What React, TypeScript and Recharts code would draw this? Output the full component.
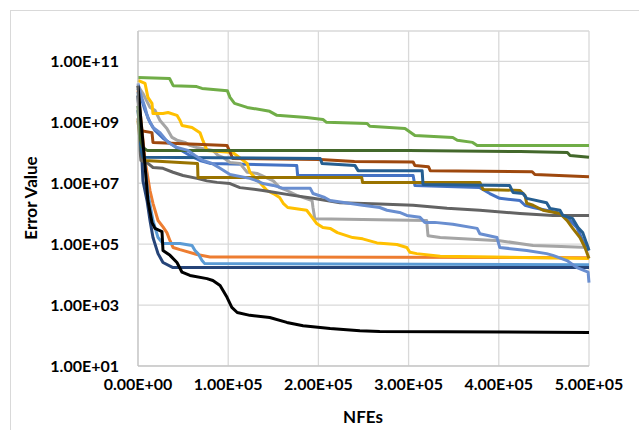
import { LineChart, Line, XAxis, YAxis, CartesianGrid } from 'recharts';

// Convergence runs: [NFEs in thousands, error value]
const greenRun: [number, number][] = [
  [0, 2.95e10], [35, 2.75e10], [39, 1.6e10], [65, 1.5e10], [71, 1.3e10], [99, 1.1e10],
  [102, 6.6e9], [107, 4.2e9], [121, 3.1e9], [146, 2.3e9], [154, 1.7e9], [187, 1.45e9],
  [205, 1.25e9], [209, 1e9], [254, 9.2e8], [257, 7.4e8], [296, 6.3e8], [307, 3.7e8],
  [349, 3.2e8], [354, 2.6e8], [371, 2.2e8], [376, 1.75e8], [500, 1.75e8],
];
const darkGreenRun: [number, number][] = [
  [0, 3.5e9], [2, 3.2e8], [5.5, 1.5e8], [10, 1.2e8], [300, 1.2e8], [424, 1.1e8],
  [476, 1.02e8], [479, 8.2e7], [500, 7.1e7],
];
const brownRun: [number, number][] = [
  [0, 1.35e9], [2, 5.4e8], [15.5, 4.6e8], [16.6, 2.2e8], [98.7, 1.75e8], [105, 6.5e7],
  [202, 6e7], [240, 5.2e7], [305, 5e7], [307, 3.8e7], [322, 3.5e7], [324, 2.6e7],
  [437, 2.4e7], [440, 1.95e7], [500, 1.65e7],
];
const steelBlueRun: [number, number][] = [
  [0, 2.5e9], [3.3, 1.2e8], [5.5, 7.1e7], [202, 6.5e7], [204, 4.5e7], [240.6, 3.8e7],
  [244, 2.6e7], [315, 2.6e7], [316, 9.1e6], [412, 8.5e6], [415.7, 5e6], [426.8, 4.6e6],
  [431, 3.2e6], [453, 2.3e6], [456.7, 1.5e6], [467.8, 1.3e6], [471, 8.8e5], [482, 6.9e5],
  [487.8, 3.5e5], [493, 2.4e5], [495.5, 1.5e5], [499, 7.8e4], [500, 6.2e4],
];
const oliveRun: [number, number][] = [
  [0, 1.15e9], [3.3, 1.2e8], [7.8, 5.6e7], [66, 4.5e7], [66.5, 1.55e7], [248, 1.55e7],
  [249, 1.07e7], [379, 1.07e7], [382.5, 6.3e6], [423.5, 5.8e6], [429, 4e6], [431, 2.2e6],
  [438, 1.9e6], [449, 1.3e6], [467.8, 1.02e6], [475.6, 6e5], [482, 3.3e5], [490, 1.65e5],
  [495.5, 7.8e4], [500, 3.4e4],
];
const blueRun: [number, number][] = [
  [0, 1.3e10], [4.4, 5.2e9], [7.8, 2.5e9], [13.3, 1e9], [18.8, 5.4e8], [27.7, 3e8],
  [41, 1.6e8], [57.6, 8.2e7], [68.7, 5.6e7], [79.8, 4.5e7], [176, 3.8e7], [177, 1.8e7],
  [305, 1.8e7], [307, 8.5e6], [379, 7.2e6], [390, 4.6e6], [401, 3.2e6], [423.5, 2.7e6],
  [429, 1.9e6], [438, 1.6e6], [464.5, 1.1e6], [475.6, 7.6e5], [486.7, 3.5e5], [493, 1.3e5],
  [499, 6.2e4],
];
const paleBlueRun: [number, number][] = [
  [0, 1.9e10], [3.3, 7.6e9], [7.8, 3.1e9], [11, 1.35e9], [16.6, 6.8e8], [24.4, 4.6e8],
  [33.3, 2.2e8], [43.2, 1.5e8], [55.4, 1.2e8], [63.2, 8.2e7], [72, 5.6e7], [82, 4.5e7],
  [91, 3.1e7], [102, 1.95e7], [124, 1.45e7], [132, 1.2e7], [138.6, 9.8e6], [150, 8.5e6],
  [161, 6.8e6], [191, 6.8e6], [194, 4.6e6], [207, 3.4e6], [213, 2.7e6], [249, 1.9e6],
  [268, 1.6e6], [276, 1.3e6], [290, 1.1e6], [298, 8.8e5], [312.6, 7.6e5], [318, 5.2e5],
  [329, 5.2e5], [349, 4.5e5], [376, 3.3e5], [379, 2.2e5], [398, 1.65e5], [401, 7.8e4],
  [431, 6.2e4], [453, 4.9e4], [460, 4.3e4], [475.6, 2.9e4], [486.7, 1.7e4], [499, 1.2e4],
  [500, 5.5e3],
];
const darkGrayRun: [number, number][] = [
  [0, 7.6e9], [2.2, 1.2e8], [3.3, 5.6e7], [11, 4.5e7], [16.6, 3.3e7], [27.7, 3.1e7],
  [38.8, 2.3e7], [49.9, 1.8e7], [65.4, 1.45e7], [76.5, 1.2e7], [87.6, 1.07e7], [102, 9.8e6],
  [113, 7.2e6], [138.6, 5.8e6], [172, 4e6], [194, 3.2e6], [224, 2.3e6], [268, 2.1e6],
  [305, 1.9e6], [342.6, 1.5e6], [379, 1.3e6], [423.5, 1.02e6], [460, 8.8e5], [500, 8.7e5],
];
const grayRun: [number, number][] = [
  [0, 1.6e10], [5.5, 8.9e9], [13.3, 3.1e9], [18.8, 2.5e9], [24.4, 1.15e9], [32, 6.3e8],
  [37.7, 3.2e8], [43.2, 2.6e8], [52.1, 2.2e8], [57.6, 1.75e8], [65.4, 1.5e8], [83, 1.2e8],
  [88.7, 8.2e7], [94.2, 7.1e7], [102, 4.8e7], [113, 4.5e7], [121, 2.3e7], [132, 2.1e7],
  [150, 1.2e7], [157, 7.2e6], [165, 5.8e6], [176, 4e6], [193, 2.7e6], [194, 1.6e6],
  [196, 6.9e5], [320, 6e5], [321.5, 1.9e5], [335, 1.65e5], [401, 1.3e5], [438, 9.1e4],
  [500, 7.8e4],
];
const yellowRun: [number, number][] = [
  [0, 2.4e10], [7.8, 1.9e10], [11, 6.6e9], [15.5, 4.2e9], [16.6, 1.95e9], [27.7, 1.95e9],
  [33.3, 2.1e9], [43.2, 1.7e9], [46.6, 1.15e9], [48.8, 7.9e8], [59.9, 6.8e8], [68.7, 4.6e8],
  [72, 2.5e8], [76.5, 1.2e8], [105, 1.02e8], [121, 4.5e7], [124, 2.3e7], [127.5, 1.8e7],
  [135, 1.07e7], [143, 5.8e6], [150, 4.6e6], [157, 3.4e6], [161, 2.2e6], [166, 1.6e6],
  [187, 1.3e6], [193, 7.6e5], [198, 4.8e5], [205, 3.5e5], [213, 3.3e5], [221, 2.4e5],
  [238, 1.65e5], [249, 1.5e5], [265, 1.1e5], [287, 9.8e4], [298, 7.8e4], [301.5, 5.4e4],
  [309, 4.9e4], [335, 4e4], [500, 3.4e4],
];
const orangeRun: [number, number][] = [
  [0, 1.1e10], [7.8, 5.6e7], [13.3, 5.8e6], [16.6, 2.2e6], [22.2, 6e5], [27.7, 3.7e5],
  [32, 2.4e5], [35.5, 1.3e5], [38.8, 7.8e4], [46.6, 6.6e4], [65.4, 4.6e4], [79.8, 3.8e4],
  [500, 3.6e4],
];
const skyBlueRun: [number, number][] = [
  [0, 1e10], [5.5, 1.2e8], [7.8, 3.8e7], [11, 4.6e6], [16.6, 6e5], [22.2, 1.65e5],
  [27.7, 1.05e5], [46.6, 1.05e5], [59.9, 9.1e4], [63.2, 6.2e4], [66.5, 4.9e4], [71, 2.9e4],
  [74, 2.3e4], [500, 2.1e4],
];
const navyRun: [number, number][] = [
  [0, 7.6e9], [4.4, 5.6e7], [5.5, 1.2e7], [10, 2.7e6], [13.3, 6e5], [16.6, 1.65e5],
  [22.2, 4.9e4], [27.7, 2.5e4], [38.8, 1.7e4], [500, 1.7e4],
];
const blackRun: [number, number][] = [
  [0, 1.6e10], [3.3, 1.15e9], [7.8, 3.8e7], [11, 2.7e6], [15.5, 5.2e5], [18.8, 3.3e5],
  [26.6, 2.6e5], [27.7, 6.2e4], [35.5, 4.3e4], [43.2, 2.5e4], [48.8, 1.2e4], [57.6, 9.4e3],
  [76.5, 7.4e3], [83, 6.4e3], [91, 4.4e3], [98.7, 1.8e3], [104, 840], [110, 570], [124, 460],
  [146, 390], [165, 270], [183, 210], [213, 170], [246, 145], [268, 135], [410, 130],
  [500, 125],
];

const xTicks = [0, 100000, 200000, 300000, 400000, 500000];
const yTicks = [1e1, 1e3, 1e5, 1e7, 1e9, 1e11, 1e12];

const series = [
  { key: 'c1', color: '#4472C4', run: blueRun },
  { key: 'c2', color: '#ED7D31', run: orangeRun },
  { key: 'c3', color: '#A5A5A5', run: grayRun },
  { key: 'c4', color: '#FFC000', run: yellowRun },
  { key: 'c5', color: '#5B9BD5', run: skyBlueRun },
  { key: 'c6', color: '#70AD47', run: greenRun },
  { key: 'c7', color: '#264478', run: navyRun },
  { key: 'c8', color: '#9E480E', run: brownRun },
  { key: 'c9', color: '#636363', run: darkGrayRun },
  { key: 'c10', color: '#997300', run: oliveRun },
  { key: 'c11', color: '#255E91', run: steelBlueRun },
  { key: 'c12', color: '#43682B', run: darkGreenRun },
  { key: 'c13', color: '#698ED0', run: paleBlueRun },
  { key: 'c14', color: '#000000', run: blackRun },
];

// 1e5 -> "1.00E+05"
const sci = (v: number) => {
  const [m, e] = Number(v).toExponential(2).split('e');
  const sign = e[0] === '-' ? '-' : '+';
  return `${m}E${sign}${e.replace(/[+-]/, '').padStart(2, '0')}`;
};

const tickFont = { fontFamily: 'Lato', fontWeight: 700, fontSize: 16, fill: '#000' };
const titleFont = { fontFamily: 'Lato', fontWeight: 700, fontSize: 17, color: '#000', whiteSpace: 'nowrap' as const };

export default function App() {
  return (
    <div style={{ position: 'absolute', left: 0, top: 0, width: 639, height: 430, overflow: 'hidden', background: '#fff' }}>
      <div style={{ position: 'absolute', left: 10, top: 10, width: 640, height: 440, border: '1px solid #d9d9d9' }} />
      <LineChart width={639} height={430} margin={{ top: 31, right: 50, bottom: 34, left: 0 }}>
        <CartesianGrid stroke="#d9d9d9" strokeWidth={1.3} />
        <XAxis
          type="number"
          dataKey="nfe"
          domain={[0, 500000]}
          ticks={xTicks}
          tickFormatter={sci}
          tick={tickFont}
          tickLine={false}
          tickSize={0}
          tickMargin={13}
          height={30}
          axisLine={{ stroke: '#bfbfbf' }}
          allowDuplicatedCategory={false}
        />
        <YAxis
          type="number"
          scale="log"
          domain={[10, 1e12]}
          allowDataOverflow
          ticks={yTicks}
          tickFormatter={(v: number) => (v >= 1e12 ? '' : sci(v))}
          tick={tickFont}
          tickLine={false}
          tickSize={0}
          tickMargin={19}
          width={138}
          axisLine={{ stroke: '#bfbfbf' }}
        />
        {series.map((s) => (
          <Line
            key={s.key}
            data={s.run.map(([k, v]) => ({ nfe: k * 1000, err: v }))}
            dataKey="err"
            type="linear"
            stroke={s.color}
            strokeWidth={3}
            strokeLinejoin="round"
            dot={false}
            activeDot={false}
            isAnimationActive={false}
          />
        ))}
      </LineChart>
      <div style={{ ...titleFont, position: 'absolute', left: 30, top: 198, transform: 'translate(-50%, -50%) rotate(-90deg)' }}>
        Error Value
      </div>
      <div style={{ ...titleFont, position: 'absolute', left: 363, top: 416, transform: 'translate(-50%, -50%)' }}>
        NFEs
      </div>
    </div>
  );
}
